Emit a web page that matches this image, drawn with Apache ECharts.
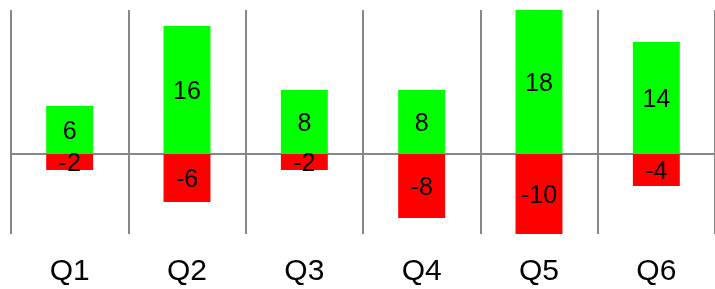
<!DOCTYPE html>
<html><head><meta charset="utf-8">
<script src="https://cdn.jsdelivr.net/npm/echarts@6/dist/echarts.min.js"></script>
<style>html,body{margin:0;padding:0;background:#fff}#c{width:715px;height:289px}</style>
</head><body><div id="c"></div>
<script>
const categories = ['Q1','Q2','Q3','Q4','Q5','Q6'];
const gains = [6,16,8,8,18,14];
const losses = [-2,-6,-2,-8,-10,-4];
const FONT = '"Liberation Sans", Arial, sans-serif';
const chart = echarts.init(document.getElementById('c'));
const lbl = {show:true, position:'inside', color:'#000', fontSize:25, fontFamily:FONT, offset:[0,2]};
chart.setOption({
  animation:false,
  grid:{left:11, top:10, width:708, height:224},
  xAxis:[{
    type:'category', data:categories, position:'bottom',
    axisLine:{show:false, onZero:false}, axisTick:{show:false},
    axisLabel:{color:'#000', fontSize:30, fontFamily:FONT, margin:23},
    splitLine:{show:true, lineStyle:{color:'#888', width:2}}
  },{
    type:'category', data:categories,
    axisLine:{show:true, onZero:true, lineStyle:{color:'#888', width:2}},
    axisTick:{show:false}, axisLabel:{show:false}, splitLine:{show:false}
  }],
  yAxis:{type:'value', min:-10, max:18, show:false, splitLine:{show:false}},
  series:[
    {type:'bar', stack:'t', data:gains, barWidth:'40%', itemStyle:{color:'#00ff00'}, label:lbl},
    {type:'bar', stack:'t', data:losses, barWidth:'40%', itemStyle:{color:'#ff0000'}, label:lbl}
  ]
});
</script></body></html>
